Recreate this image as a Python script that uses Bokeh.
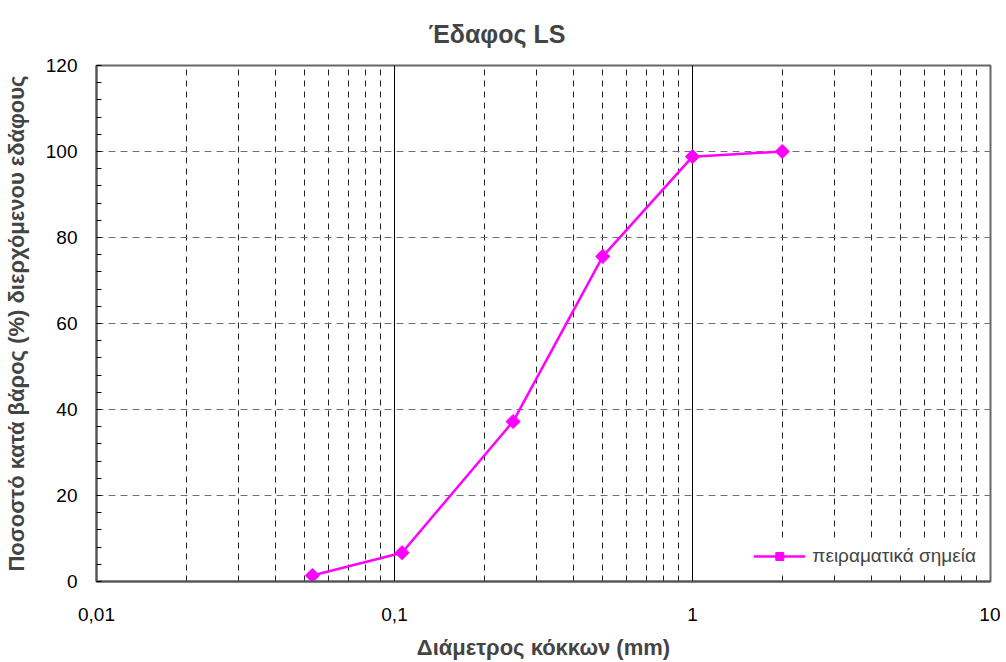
import math
from bokeh.plotting import figure
from bokeh.models import (FixedTicker, SingleIntervalTicker, CustomJSTickFormatter,
                          Legend, LegendItem, Range1d)
from bokeh.embed import file_html
from bokeh.resources import INLINE

# data
diameter_mm = [0.053, 0.106, 0.25, 0.5, 1.0, 2.0]
passing_pct = [1.4, 6.7, 37.2, 75.6, 98.8, 100.0]
series_name = "πειραματικά σημεία"
title_text = "Έδαφος LS"
x_label = "Διάμετρος κόκκων (mm)"
y_label = "Ποσοστό κατά βάρος (%) διερχόμενου εδάφους"
x_major = [0.01, 0.1, 1, 10]
x_minor = [m * d for d in [0.01, 0.1, 1] for m in range(2, 10)]

FONT = "Liberation Sans"

p = figure(width=1000, height=660, frame_width=894, frame_height=516,
           x_axis_type="log", output_backend="svg", toolbar_location=None,
           x_range=Range1d(0.01, 10), y_range=Range1d(0, 120),
           min_border_left=96, min_border_right=10, min_border_top=65, min_border_bottom=0)

p.title.text = title_text
p.title.text_font = FONT
p.title.text_font_size = "25px"
p.title.text_font_style = "bold"
p.title.align = "left"
p.title.offset = 332
p.title.standoff = 35

p.outline_line_color = "#666666"
p.outline_line_width = 2

# x axis
xa = p.xaxis[0]
xa.ticker = FixedTicker(ticks=x_major, minor_ticks=x_minor)
xa.formatter = CustomJSTickFormatter(code="return tick.toString().replace('.', ',');")
xa.axis_line_color = "#555555"
xa.axis_line_width = 2
xa.major_tick_out = 0
xa.major_tick_in = 0
xa.minor_tick_out = 0
xa.minor_tick_in = 0
xa.major_label_standoff = 26
xa.major_label_text_font = FONT
xa.major_label_text_font_size = "19px"
xa.major_label_text_color = "black"
xa.axis_label = x_label
xa.axis_label_text_font = FONT
xa.axis_label_text_font_size = "22px"
xa.axis_label_text_font_style = "bold"
xa.axis_label_standoff = 11

# y axis
ya = p.yaxis[0]
ya.ticker = SingleIntervalTicker(interval=20, num_minor_ticks=5)
ya.axis_line_color = "#555555"
ya.axis_line_width = 2
ya.major_tick_out = 0
ya.major_tick_in = 0
ya.minor_tick_out = 0
ya.minor_tick_in = 5
ya.minor_tick_line_color = "black"
ya.major_label_standoff = 19
ya.major_label_text_font = FONT
ya.major_label_text_font_size = "19px"
ya.major_label_text_color = "black"
ya.axis_label = y_label
ya.axis_label_text_font = FONT
ya.axis_label_text_font_size = "22px"
ya.axis_label_text_font_style = "bold"
ya.axis_label_standoff = 14

# grids
xg = p.xgrid[0]
xg.grid_line_color = "black"
xg.grid_line_width = 1
xg.minor_grid_line_color = "#222222"
xg.minor_grid_line_dash = "6 5"
xg.minor_grid_line_width = 1

yg = p.ygrid[0]
yg.grid_line_color = "#707070"
yg.grid_line_dash = "7 5"
yg.grid_line_width = 1

line = p.line(diameter_mm, passing_pct, line_color="#FF00FF", line_width=2.5)
pts = p.scatter(diameter_mm, passing_pct, marker="square", size=10, angle=math.pi / 4,
                fill_color="#FF00FF", line_color="#FF00FF")

legend = Legend(items=[LegendItem(label=series_name, renderers=[line, pts])],
                location="bottom_right", padding=6, margin=8, spacing=0,
                glyph_width=52, glyph_height=20, label_height=20, label_standoff=7,
                label_text_font=FONT, label_text_font_size="19px",
                border_line_alpha=0, background_fill_color="white", background_fill_alpha=1)
p.add_layout(legend, "center")

open("out.html", "w").write(file_html(p, INLINE))
